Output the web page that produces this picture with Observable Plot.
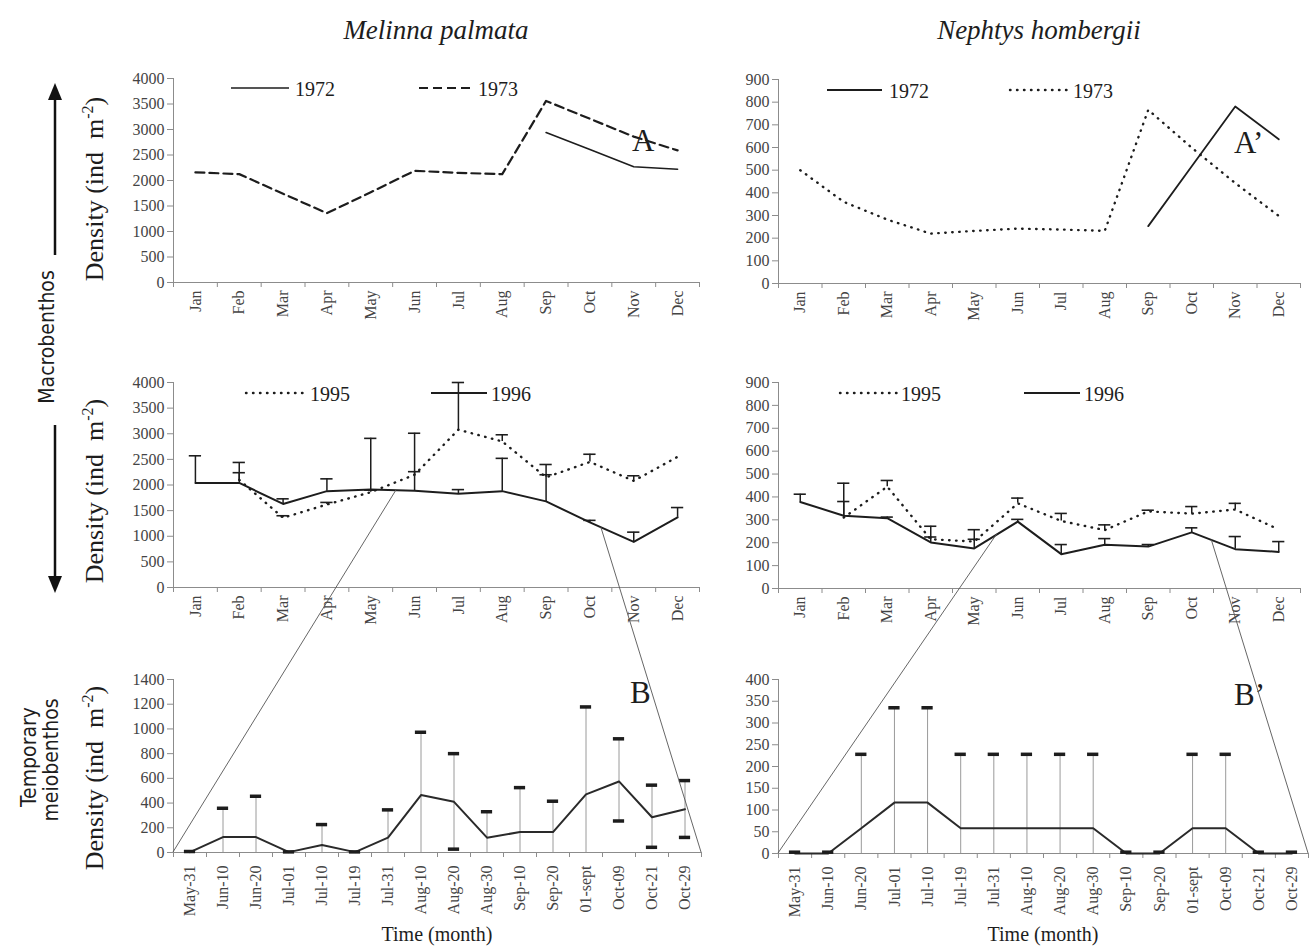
<!DOCTYPE html>
<html>
<head>
<meta charset="utf-8">
<script src="https://cdn.jsdelivr.net/npm/d3@7"></script>
<script src="https://cdn.jsdelivr.net/npm/@observablehq/plot@0.6"></script>
<style>
  html, body { margin:0; padding:0; background:#fff; }
  #fig { position:relative; width:1310px; height:946px; overflow:hidden; background:#fff; }
</style>
</head>
<body>
<div id="fig"></div>
<script>
// ---------------- DATA ----------------
const months = ["Jan","Feb","Mar","Apr","May","Jun","Jul","Aug","Sep","Oct","Nov","Dec"];
const dates = ["May-31","Jun-10","Jun-20","Jul-01","Jul-10","Jul-19","Jul-31","Aug-10","Aug-20","Aug-30","Sep-10","Sep-20","01-sept","Oct-09","Oct-21","Oct-29"];

// Panel A : Melinna palmata, 1972 / 1973
const melinna1972 = [null,null,null,null,null,null,null,null,2940,2610,2270,2220];
const melinna1973 = [2160,2125,1740,1360,1770,2190,2150,2125,3560,3210,2860,2590];
// Panel A' : Nephtys hombergii, 1972 / 1973
const nephtys1972 = [null,null,null,null,null,null,null,null,253,517,781,636];
const nephtys1973 = [500,360,282,220,232,242,238,232,766,599,443,298];

// Middle : 1995 / 1996 with upper error bars
const melinna1995   = [null,2100,1360,1620,1860,2200,3080,2850,2150,2450,2080,2550];
const melinna1995Hi = [null,2240,1400,1660,1900,2260,4000,2980,2200,2600,2180,null];
const melinna1996   = [2040,2040,1630,1880,1910,1890,1830,1880,1680,1270,890,1370];
const melinna1996Hi = [2570,2440,1730,2120,2910,3010,1910,2520,2400,1310,1080,1560];

const nephtys1995   = [null,310,445,215,205,372,295,255,337,327,345,258];
const nephtys1995Hi = [null,460,472,225,215,395,328,278,342,358,372,null];
const nephtys1996   = [378,318,307,201,175,292,150,191,183,245,172,160];
const nephtys1996Hi = [412,380,312,272,257,302,192,218,192,265,227,205];

// Bottom : temporary meiobenthos (May 31 - Oct 29)
const melinnaMeio   = [3,125,125,3,60,3,120,465,410,120,165,165,470,575,285,350];
const melinnaMeioHi = [8,358,455,5,226,5,345,973,800,330,525,415,1178,920,545,582];
const melinnaMeioLo = [null,null,null,null,null,null,null,null,27,null,null,null,null,255,42,122];
const nephtysMeio   = [0,0,58,117,117,58,58,58,58,58,0,0,58,58,0,0];
const nephtysMeioHi = [3,3,228,335,335,228,228,228,228,228,3,3,228,228,3,3];

// position (in month index units) of the May-31 / Oct-29 zoom window on the 1996 curves
const zoomWindowMelinna = [4.59, 9.26];
const zoomWindowNephtys = [4.53, 9.46];

// ---------------- STYLE ----------------
const axisColor = "#8c8c8c", textColor = "#444", ink = "#1d1d1d";
const serif = '"Liberation Serif", "Times New Roman", serif';
const narrow = '"Liberation Sans Narrow", "DejaVu Sans Condensed", "Arial Narrow", sans-serif';
const fig = document.getElementById("fig");

function rowsOf(labels, cols) {
  return labels.map((l, i) => {
    const r = {i};
    for (const k in cols) r[k] = cols[k][i];
    return r;
  });
}

function errMarks(values, highs, lows, o) {
  const rows = values.map((v, i) => ({i, v, hi: highs[i], lo: lows ? lows[i] : null}))
    .filter(d => d.v != null && d.hi != null);
  const out = [
    Plot.ruleX(rows, {x: "i", y1: d => (o.fromZero ? (d.lo ?? 0) : d.v), y2: "hi", stroke: o.barStroke, strokeWidth: o.barWidth}),
    Plot.ruleY(rows, {y: "hi", x1: d => d.i - o.cap, x2: d => d.i + o.cap, stroke: o.capStroke, strokeWidth: o.capWidth})
  ];
  if (lows) {
    const lr = rows.filter(d => d.lo != null);
    out.push(Plot.ruleY(lr, {y: "lo", x1: d => d.i - o.cap, x2: d => d.i + o.cap, stroke: o.capStroke, strokeWidth: o.capWidth}));
  }
  return out;
}

function makePanel({frame: [L, T, R, B], labels, ymax, ystep, marks, padX}) {
  const ML = 70, MR = 12, MT = 22, MB = 80;
  const n = labels.length;
  const plot = Plot.plot({
    width: R - L + ML + MR, height: B - T + MT + MB,
    marginLeft: ML, marginRight: MR, marginTop: MT, marginBottom: MB,
    x: {type: "linear", domain: [-0.5, n - 0.5]},
    y: {type: "linear", domain: [0, ymax]},
    style: {background: "transparent", fontFamily: serif, fontSize: "16px", color: textColor, overflow: "visible"},
    marks: [
      Plot.ruleX([-0.5], {stroke: axisColor}),
      Plot.ruleY([0], {stroke: axisColor}),
      Plot.axisY(d3.range(0, ymax + ystep / 2, ystep), {anchor: "left", tickSize: 6, tickPadding: 3, tickFormat: d3.format("d"), stroke: axisColor, fill: textColor, label: null}),
      Plot.axisX(d3.range(n + 1).map(k => k - 0.5), {anchor: "bottom", tickSize: 5, stroke: axisColor, fill: "none", label: null}),
      Plot.axisX(d3.range(n), {anchor: "bottom", tickSize: 0, tickPadding: padX, tickRotate: -90, tickFormat: k => labels[k], fill: textColor, label: null}),
      ...marks
    ]
  });
  plot.style.position = "absolute";
  plot.style.left = (L - ML) + "px";
  plot.style.top = (T - MT) + "px";
  fig.appendChild(plot);
  const sx = plot.scale("x"), sy = plot.scale("y");
  const fx = sx.apply ? v => sx.apply(v) : d3.scaleLinear(sx.domain, sx.range);
  const fy = sy.apply ? v => sy.apply(v) : d3.scaleLinear(sy.domain, sy.range);
  return {x: v => L - ML + fx(v), y: v => T - MT + fy(v), n};
}

const dotted = {strokeDasharray: "0.5,6.5", strokeLinecap: "round", strokeWidth: 2.4};

// ---------------- PANELS ----------------
const rA = rowsOf(months, {a: melinna1972, b: melinna1973});
const pA = makePanel({frame: [173, 78, 699, 282], labels: months, ymax: 4000, ystep: 500, padX: 8, marks: [
  Plot.line(rA, {x: "i", y: "b", stroke: ink, strokeWidth: 2.2, strokeDasharray: "9,5"}),
  Plot.line(rA, {x: "i", y: "a", stroke: ink, strokeWidth: 1.6})
]});

const rA2 = rowsOf(months, {a: nephtys1972, b: nephtys1973});
const pA2 = makePanel({frame: [778, 79, 1300, 283], labels: months, ymax: 900, ystep: 100, padX: 8, marks: [
  Plot.line(rA2, {x: "i", y: "b", stroke: ink, ...dotted}),
  Plot.line(rA2, {x: "i", y: "a", stroke: ink, strokeWidth: 1.8})
]});

const midErr = {barStroke: ink, barWidth: 1.5, capStroke: ink, capWidth: 1.6, cap: 0.14, fromZero: false};
const rM = rowsOf(months, {a: melinna1995, b: melinna1996});
const pM = makePanel({frame: [173, 382, 699, 587], labels: months, ymax: 4000, ystep: 500, padX: 8, marks: [
  Plot.line(rM, {x: "i", y: "a", stroke: ink, ...dotted}),
  Plot.line(rM, {x: "i", y: "b", stroke: ink, strokeWidth: 2}),
  ...errMarks(melinna1995, melinna1995Hi, null, midErr),
  ...errMarks(melinna1996, melinna1996Hi, null, midErr)
]});

const rM2 = rowsOf(months, {a: nephtys1995, b: nephtys1996});
const pM2 = makePanel({frame: [778, 382, 1300, 588], labels: months, ymax: 900, ystep: 100, padX: 8, marks: [
  Plot.line(rM2, {x: "i", y: "a", stroke: ink, ...dotted}),
  Plot.line(rM2, {x: "i", y: "b", stroke: ink, strokeWidth: 2}),
  ...errMarks(nephtys1995, nephtys1995Hi, null, midErr),
  ...errMarks(nephtys1996, nephtys1996Hi, null, midErr)
]});

const botErr = {barStroke: "#9a9a9a", barWidth: 1, capStroke: ink, capWidth: 3.5, cap: 0.17, fromZero: true};
const rB = rowsOf(dates, {v: melinnaMeio});
const botErrL = errMarks(melinnaMeio, melinnaMeioHi, melinnaMeioLo, botErr);
const pB = makePanel({frame: [173, 679, 701, 852], labels: dates, ymax: 1400, ystep: 200, padX: 13, marks: [
  botErrL[0],
  Plot.line(rB, {x: "i", y: "v", stroke: "#2a2a2a", strokeWidth: 2}),
  ...botErrL.slice(1)
]});

const rB2 = rowsOf(dates, {v: nephtysMeio});
const botErrR = errMarks(nephtysMeio, nephtysMeioHi, null, botErr);
const pB2 = makePanel({frame: [778, 679, 1308, 853], labels: dates, ymax: 400, ystep: 50, padX: 13, marks: [
  botErrR[0],
  Plot.line(rB2, {x: "i", y: "v", stroke: "#2a2a2a", strokeWidth: 2}),
  ...botErrR.slice(1)
]});

// ---------------- OVERLAY (titles, labels, legends, connectors) ----------------
const ov = d3.select(fig).append("svg")
  .attr("width", 1310).attr("height", 946)
  .style("position", "absolute").style("left", "0px").style("top", "0px")
  .style("pointer-events", "none").style("overflow", "visible");

function txt(x, y, s, size, opts = {}) {
  return ov.append("text").attr("x", x).attr("y", y).text(s)
    .attr("font-family", opts.family || serif).attr("font-size", size)
    .attr("font-style", opts.italic ? "italic" : null)
    .attr("text-anchor", opts.anchor || "start").attr("fill", opts.fill || "#1d1d1d");
}

// titles
txt((173 + 699) / 2, 39, "Melinna palmata", 27, {italic: true, anchor: "middle"});
txt((778 + 1300) / 2, 39, "Nephtys hombergii", 27, {italic: true, anchor: "middle"});

// legends
function legLine(x1, x2, y, style) {
  const l = ov.append("line").attr("x1", x1).attr("x2", x2).attr("y1", y).attr("y2", y).attr("stroke", ink);
  for (const k in style) l.attr(k, style[k]);
}
const dotAttr = {"stroke-width": 2.4, "stroke-dasharray": "0.5,6.5", "stroke-linecap": "round"};
legLine(231, 289, 88, {"stroke-width": 1.6}); txt(295, 96, "1972", 20);
legLine(419, 474, 88, {"stroke-width": 2.2, "stroke-dasharray": "9,5"}); txt(478, 96, "1973", 20);
legLine(827, 882, 90, {"stroke-width": 1.8}); txt(889, 98, "1972", 20);
legLine(1010, 1067, 90, dotAttr); txt(1073, 98, "1973", 20);
legLine(246, 305, 393, dotAttr); txt(310, 401, "1995", 20);
legLine(431, 487, 393, {"stroke-width": 2}); txt(491, 401, "1996", 20);
legLine(840, 897, 393, dotAttr); txt(901, 401, "1995", 20);
legLine(1024, 1080, 393, {"stroke-width": 2}); txt(1084, 401, "1996", 20);

// panel letters
txt(632, 151, "A", 31);
txt(1234, 153, "A\u2019", 31);
txt(630, 703, "B", 31);
txt(1234, 705, "B\u2019", 31);

// x axis titles
txt((173 + 701) / 2, 941, "Time (month)", 20, {anchor: "middle"});
txt((778 + 1308) / 2, 941, "Time (month)", 20, {anchor: "middle"});

// density labels (rotated)
function densityLabel(x, y) {
  const t = ov.append("text").attr("transform", `translate(${x},${y}) rotate(-90)`)
    .attr("text-anchor", "middle").attr("font-family", serif).attr("font-size", 26).attr("fill", "#1d1d1d");
  t.append("tspan").text("Density (ind\u00A0\u00A0m");
  t.append("tspan").attr("dy", -10).attr("font-size", 16).text("-2");
  t.append("tspan").attr("dy", 10).text(")");
}
densityLabel(103, 189);
densityLabel(103, 491);
densityLabel(103, 778);

function rotText(x, y, s, size) {
  ov.append("text").attr("transform", `translate(${x},${y}) rotate(-90)`)
    .attr("text-anchor", "middle").attr("font-family", narrow).attr("font-stretch", "condensed")
    .attr("font-size", size).attr("fill", "#1d1d1d").text(s);
}
rotText(54, 337, "Macrobenthos", 21);
rotText(36, 757, "Temporary", 21);
rotText(58, 760, "meiobenthos", 21);

// arrows
ov.append("line").attr("x1", 55).attr("x2", 55).attr("y1", 96).attr("y2", 255).attr("stroke", "#111").attr("stroke-width", 2.5);
ov.append("polygon").attr("points", "55,83 48,100 62,100").attr("fill", "#111");
ov.append("line").attr("x1", 55).attr("x2", 55).attr("y1", 425).attr("y2", 580).attr("stroke", "#111").attr("stroke-width", 2.5);
ov.append("polygon").attr("points", "55,593 48,576 62,576").attr("fill", "#111");

// connectors from the 1996 curve (zoom window) to the bottom panels' axis ends
function interp(arr, t) {
  const a = Math.floor(t), b = Math.ceil(t);
  return arr[a] + (arr[b] - arr[a]) * (t - a);
}
function connector(mid, bot, series, win) {
  const pts = [
    [[mid.x(win[0]), mid.y(interp(series, win[0]))], [bot.x(-0.5), bot.y(0)]],
    [[mid.x(win[1]), mid.y(interp(series, win[1]))], [bot.x(bot.n - 0.5), bot.y(0)]]
  ];
  for (const [p, q] of pts) {
    ov.append("line").attr("x1", p[0]).attr("y1", p[1]).attr("x2", q[0]).attr("y2", q[1])
      .attr("stroke", "#555").attr("stroke-width", 0.9);
  }
}
connector(pM, pB, melinna1996, zoomWindowMelinna);
connector(pM2, pB2, nephtys1996, zoomWindowNephtys);
</script>
</body>
</html>
